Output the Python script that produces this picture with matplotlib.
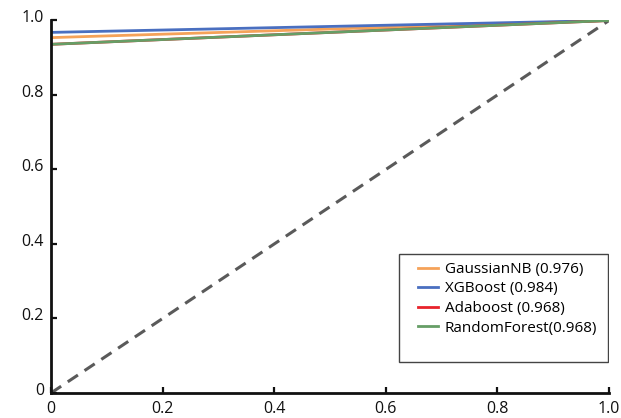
import matplotlib
matplotlib.use("Agg")
import matplotlib.pyplot as plt
import matplotlib.transforms as mtransforms
from matplotlib.patches import Rectangle

plt.rcParams["font.family"] = ["Open Sans", "DejaVu Sans"]

# ROC curves (fpr -> tpr)
models = ["GaussianNB (0.976)", "XGBoost (0.984)", "Adaboost (0.968)", "RandomForest(0.968)"]
fpr = [0.0, 1.0]
tpr_gnb = [0.954, 1.0]
tpr_xgb = [0.968, 1.0]
tpr_ada = [0.936, 1.0]
tpr_rf = [0.936, 1.0]
colors = ["#f5a259", "#4a6fc0", "#e8232b", "#669e66"]

ticks = [0, 0.2, 0.4, 0.6, 0.8, 1.0]
tick_labels = ["0", "0.2", "0.4", "0.6", "0.8", "1.0"]

fig = plt.figure(figsize=(6.21, 4.18), dpi=100)
ax = fig.add_axes([0.0821, 0.0598, 0.8986, 0.8912])

ax.plot([0, 1], [0, 1], color="#5a5a5a", lw=2.2, ls=(0, (4, 2.6)), zorder=1)
handles = []
for tpr, c, name in zip([tpr_gnb, tpr_xgb, tpr_ada, tpr_rf], colors, models):
    (h,) = ax.plot(fpr, tpr, color=c, lw=2.0, label=name, zorder=2)
    handles.append(h)

ax.set_xlim(0, 1)
ax.set_ylim(0, 1)
ax.set_xticks(ticks)
ax.set_xticklabels(tick_labels)
ax.set_yticks(ticks)
ax.set_yticklabels(tick_labels)
ax.tick_params(direction="in", length=4, width=1.6, labelsize=11.5, colors="#111111")
ax.tick_params(axis="x", pad=6)
ax.tick_params(axis="y", pad=5)
# y labels sit a little above their ticks in the reference
shift = mtransforms.ScaledTranslation(0, 4 / 100, fig.dpi_scale_trans)
for lab in ax.get_yticklabels():
    lab.set_transform(lab.get_transform() + shift)
for s in ["top", "right"]:
    ax.spines[s].set_visible(False)
for s in ["left", "bottom"]:
    ax.spines[s].set_linewidth(2.0)
    ax.spines[s].set_color("#111111")

# legend frame drawn separately so its box matches the reference
ax.add_patch(Rectangle((0.624, 0.083), 0.374, 0.29, transform=ax.transAxes,
                       fill=True, facecolor="white", edgecolor="#444444", lw=1.0, zorder=3))
leg = ax.legend(handles=handles, loc="upper left", bbox_to_anchor=(0.658, 0.352),
                frameon=False, fontsize=11, handlelength=1.3, handletextpad=0.45,
                labelspacing=0.3, borderaxespad=0, borderpad=0)
leg.set_zorder(4)

fig.savefig("out.png", dpi=100)
